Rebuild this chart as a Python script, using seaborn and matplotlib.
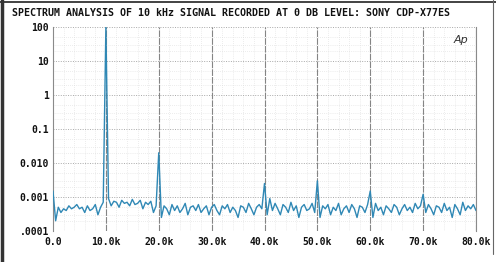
import numpy as np
import pandas as pd
import matplotlib
matplotlib.use("Agg")
import matplotlib.pyplot as plt
import seaborn as sns

# Frequency axis in kHz (0.5 kHz steps) and level (units of 1e-4)
freq_khz = [i * 0.5 for i in range(161)]
level_e4 = [
    15, 2, 5, 3.5, 4.5, 4, 5.5, 4.5, 5, 6, 4.5, 5, 3.5, 5.5, 4, 4.5, 6, 3, 5, 7,
    1e6, 9, 5.5, 7.5, 7, 5, 8, 6.5, 7, 5.5, 8.5, 6, 6.5, 8, 4.5, 7, 6, 7.5, 3.5, 5.5,
    200, 2.5, 5.5, 4.5, 3, 6, 4, 5.5, 3.5, 4.5, 6.5, 3, 5, 5.5, 4, 6, 3.5, 4.5, 5.5, 3,
    5, 6, 4, 3, 5.5, 4.5, 6, 3.5, 5, 4, 2.5, 5.5, 5, 3.5, 6.5, 4.5, 3, 5, 6, 4.5,
    25, 3, 9, 4, 6.5, 4.5, 3, 6, 5, 3.5, 7, 4, 5.5, 2.5, 5, 6, 4, 4.5, 6.5, 3.5,
    30, 2.5, 5.5, 4.5, 6, 3, 5, 4, 6.5, 3, 4.5, 5.5, 3.5, 6, 4.5, 2.5, 5.5, 5, 3.5, 6,
    15, 2.5, 6.5, 4, 5, 3, 5.5, 4.5, 3.5, 6, 5, 3, 4.5, 6, 4, 5, 3.5, 6.5, 4.5, 5.5,
    12, 3.5, 6, 4.5, 3, 5.5, 5, 3.5, 6.5, 4, 5, 2.5, 6, 4.5, 3, 7, 4, 5.5, 4.5, 6,
    4,
]
level = [v * 1e-4 for v in level_e4]

title = "SPECTRUM ANALYSIS OF 10 kHz SIGNAL RECORDED AT 0 DB LEVEL: SONY CDP-X77ES"
x_ticks = [0, 10, 20, 30, 40, 50, 60, 70, 80]
x_labels = ["0.0", "10.0k", "20.0k", "30.0k", "40.0k", "50.0k", "60.0k", "70.0k", "80.0k"]
y_ticks = [100, 10, 1, 0.1, 0.01, 0.001, 0.0001]
y_labels = ["100", "10", "1", "0.1", "0.010", "0.001", ".0001"]

df = pd.DataFrame({"freq": freq_khz, "level": level})

sns.set_style("white")
plt.rcParams["font.family"] = ["DejaVu Sans Mono", "DejaVu Sans"]

fig = plt.figure(figsize=(4.96, 2.62), dpi=100)
ax = fig.add_axes([53 / 496, 1 - 231 / 262, (476 - 53) / 496, (231 - 27) / 262])

ax.set_yscale("log")
ax.set_xlim(0, 80)
ax.set_ylim(1e-4, 100)

# grid
for xv in x_ticks[1:]:
    ax.axvline(xv, color="#858585", lw=0.8, ls=(0, (6, 1)), zorder=1)
for xv in np.arange(2, 80, 2):
    if xv % 10:
        ax.axvline(xv, color="#dadada", lw=0.5, ls=(0, (1, 2)), zorder=0)
for yv in y_ticks:
    ax.axhline(yv, color="#a8a8a8", lw=0.7, ls=(0, (1, 1.5)), zorder=0)
for d in [1e-4, 1e-3, 1e-2, 1e-1, 1, 10]:
    for m in [2, 3, 5]:
        ax.axhline(d * m, color="#dadada", lw=0.5, ls=(0, (1, 2)), zorder=0)

sns.lineplot(data=df, x="freq", y="level", ax=ax, color="#2f88b5", lw=1.0, zorder=3)

ax.set_xticks(x_ticks)
ax.set_xticklabels(x_labels)
ax.set_yticks(y_ticks)
ax.set_yticklabels(y_labels)
ax.minorticks_off()
ax.tick_params(axis="both", length=0, labelsize=7, colors="#111111", pad=3)
ax.tick_params(axis="x", pad=4)
for lab in ax.get_xticklabels() + ax.get_yticklabels():
    lab.set_fontweight("bold")
ax.set_xlabel("")
ax.set_ylabel("")

for s in ["top", "bottom"]:
    ax.spines[s].set_visible(False)
ax.spines["left"].set_color("#8a8a8a")
ax.spines["left"].set_linewidth(0.8)
ax.spines["right"].set_color("#8a8a8a")
ax.spines["right"].set_linewidth(0.8)

fig.text(12 / 496, 1 - 13 / 262, title, fontsize=7.2, fontweight="bold",
         ha="left", va="center", color="#111111")
ax.text(0.965, 0.935, "Ap", transform=ax.transAxes, fontsize=8, style="italic",
        family="DejaVu Sans", color="#333333", ha="center", va="center")

# scan frame
fig.add_artist(plt.Line2D([0, 1], [1 - 2 / 262, 1 - 2 / 262], color="#222222", lw=1.2,
                          transform=fig.transFigure))
fig.add_artist(plt.Line2D([2 / 496, 2 / 496], [0, 1], color="#333333", lw=2.5,
                          transform=fig.transFigure))
fig.add_artist(plt.Line2D([493 / 496, 493 / 496], [0.03, 1], color="#666666", lw=0.8,
                          transform=fig.transFigure))

fig.savefig("out.png", dpi=100)
